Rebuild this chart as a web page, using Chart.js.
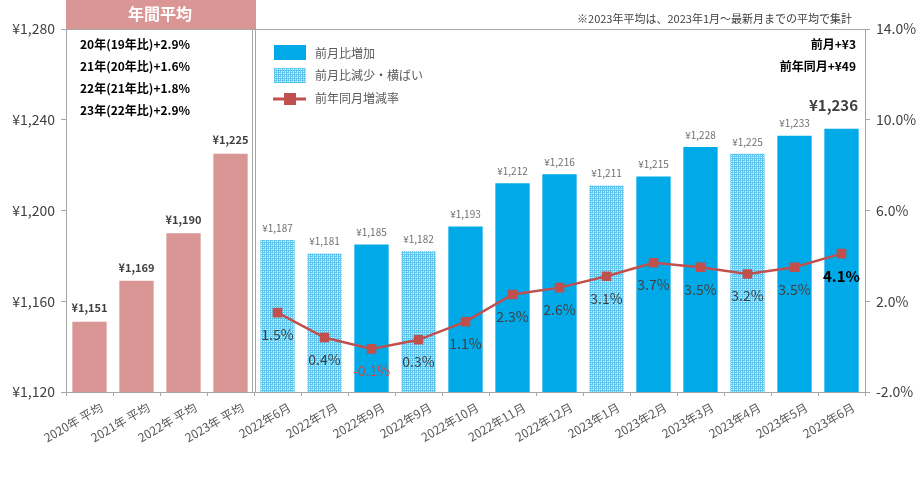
<!DOCTYPE html>
<html>
<head>
<meta charset="utf-8">
<script src="https://cdn.jsdelivr.net/npm/chart.js@4"></script>
<style>
  html, body { margin: 0; padding: 0; background: #fff; }
  #wrap { width: 922px; height: 487px; }
</style>
</head>
<body>
<div id="wrap"><canvas id="priceChart"></canvas></div>
<script>
// categories and values
const labels = ['2020年 平均', '2021年 平均', '2022年 平均', '2023年 平均',
  '2022年6月', '2022年7月', '2022年9月', '2022年9月', '2022年10月', '2022年11月', '2022年12月',
  '2023年1月', '2023年2月', '2023年3月', '2023年4月', '2023年5月', '2023年6月'];
const prices = [1151, 1169, 1190, 1225, 1187, 1181, 1185, 1182, 1193, 1212, 1216, 1211, 1215, 1228, 1225, 1233, 1236];
const yoyRate = [null, null, null, null, 1.5, 0.4, -0.1, 0.3, 1.1, 2.3, 2.6, 3.1, 3.7, 3.5, 3.2, 3.5, 4.1];
// a = annual average, u = up on previous month, d = down / flat
const barKind = ['a', 'a', 'a', 'a', 'd', 'd', 'u', 'd', 'u', 'u', 'u', 'd', 'u', 'u', 'd', 'u', 'u'];
const yenTicks = [1120, 1160, 1200, 1240, 1280];
const pctTicks = [-2, 2, 6, 10, 14];
const annualNotes = ['20年(19年比)+2.9%', '21年(20年比)+1.6%', '22年(21年比)+1.8%', '23年(22年比)+2.9%'];
const latestNotes = ['前月+¥3', '前年同月+¥49'];

const PINK = '#d99694';
const BLUE = '#00a9e8';
const RED = '#c0504d';
const FONT = '"Noto Sans CJK JP", "Noto Sans", sans-serif';

// dotted light-blue fill for "down / flat" months
function makePattern() {
  let c = document.createElement('canvas');
  c.width = 4; c.height = 4;
  let g = c.getContext('2d');
  g.fillStyle = '#5cc3ee';
  g.fillRect(0, 0, 4, 4);
  g.fillStyle = '#d8f1fc';
  g.fillRect(1, 1, 1, 1);
  g.fillRect(3, 1, 1, 1);
  g.fillRect(1, 3, 1, 1);
  g.fillRect(3, 3, 1, 1);
  g.fillStyle = '#9ad9f5';
  g.fillRect(0, 1, 1, 1);
  g.fillRect(1, 0, 1, 1);
  return g.createPattern(c, 'repeat');
}
const pattern = makePattern();
const barColors = barKind.map(k => k === 'a' ? PINK : (k === 'u' ? BLUE : pattern));

const decorations = {
  id: 'decorations',
  beforeDatasetsDraw(chart) {
    const ctx = chart.ctx, a = chart.chartArea, x = chart.scales.x;
    ctx.save();
    // plot frame
    ctx.strokeStyle = '#a6a6a6';
    ctx.lineWidth = 1;
    ctx.strokeRect(a.left + 0.5, a.top + 0.5, a.right - a.left, a.bottom - a.top);
    // double divider between annual and monthly
    let sep = (x.getPixelForValue(3) + x.getPixelForValue(4)) / 2;
    ctx.beginPath();
    ctx.moveTo(sep - 1.5, a.top); ctx.lineTo(sep - 1.5, a.bottom);
    ctx.moveTo(sep + 1.5, a.top); ctx.lineTo(sep + 1.5, a.bottom);
    ctx.stroke();
    // header box
    ctx.fillStyle = PINK;
    ctx.fillRect(a.left, 0, sep + 2 - a.left, a.top);
    ctx.fillStyle = '#fff';
    ctx.font = 'bold 16px ' + FONT;
    ctx.textAlign = 'center';
    ctx.textBaseline = 'middle';
    ctx.fillText('年間平均', (a.left + sep) / 2, 14);
    ctx.restore();
  },
  afterDatasetsDraw(chart) {
    const ctx = chart.ctx, a = chart.chartArea;
    const barMeta = chart.getDatasetMeta(1);
    const lineMeta = chart.getDatasetMeta(0);
    ctx.save();
    ctx.textAlign = 'center';
    ctx.textBaseline = 'bottom';
    // bar value labels
    barMeta.data.forEach((bar, i) => {
      let txt = '¥' + prices[i].toLocaleString('en-US');
      if (i === prices.length - 1) {
        ctx.font = 'bold 15px ' + FONT;
        ctx.fillStyle = '#404040';
        ctx.fillText(txt, bar.x - 8, bar.y - 16);
      } else if (barKind[i] === 'a') {
        ctx.font = 'bold 11px ' + FONT;
        ctx.fillStyle = '#404040';
        ctx.fillText(txt, bar.x, bar.y - 8);
      } else {
        ctx.font = '10px ' + FONT;
        ctx.fillStyle = '#707070';
        ctx.fillText(txt, bar.x, bar.y - 7);
      }
    });
    // yoy labels under the line points
    ctx.textBaseline = 'top';
    lineMeta.data.forEach((pt, i) => {
      let v = yoyRate[i];
      if (v === null) return;
      let last = i === yoyRate.length - 1;
      ctx.font = (last ? 'bold 15px ' : '14px ') + FONT;
      ctx.fillStyle = last ? '#000' : (v < 0 ? '#e0403a' : '#404040');
      ctx.fillText(v.toFixed(1) + '%', pt.x, pt.y + 15);
    });
    // annual notes
    ctx.textAlign = 'left';
    ctx.textBaseline = 'middle';
    ctx.font = 'bold 12px ' + FONT;
    ctx.fillStyle = '#000';
    annualNotes.forEach((t, i) => ctx.fillText(t, 80, 44 + i * 22));
    // latest-month notes
    ctx.textAlign = 'right';
    latestNotes.forEach((t, i) => ctx.fillText(t, 856, 44 + i * 22));
    // footnote on top
    ctx.font = '11px ' + FONT;
    ctx.fillStyle = '#404040';
    ctx.fillText('※2023年平均は、2023年1月～最新月までの平均で集計', 852, 19);
    // legend
    ctx.fillStyle = BLUE;
    ctx.fillRect(274, 45, 32, 15);
    ctx.fillStyle = pattern;
    ctx.fillRect(274, 68, 32, 15);
    ctx.strokeStyle = RED;
    ctx.lineWidth = 3;
    ctx.beginPath(); ctx.moveTo(273, 99); ctx.lineTo(306, 99); ctx.stroke();
    ctx.fillStyle = RED;
    ctx.fillRect(284, 93, 12, 12);
    ctx.textAlign = 'left';
    ctx.font = '12px ' + FONT;
    ctx.fillStyle = '#595959';
    ctx.fillText('前月比増加', 315, 53);
    ctx.fillText('前月比減少・横ばい', 315, 75);
    ctx.fillText('前年同月増減率', 315, 98);
    ctx.restore();
  }
};

new Chart(document.getElementById('priceChart'), {
  type: 'bar',
  data: {
    labels: labels,
    datasets: [{
      type: 'line',
      label: '前年同月増減率',
      data: yoyRate,
      yAxisID: 'y2',
      borderColor: RED,
      backgroundColor: RED,
      borderWidth: 2.5,
      pointStyle: 'rect',
      pointRadius: 5,
      pointHoverRadius: 5,
      tension: 0,
      order: 0
    }, {
      label: '価格',
      data: prices,
      yAxisID: 'y',
      backgroundColor: barColors,
      categoryPercentage: 1,
      barPercentage: 0.73,
      order: 1
    }]
  },
  options: {
    responsive: true,
    maintainAspectRatio: false,
    animation: false,
    layout: { padding: { top: 29, left: 0, right: 0, bottom: 0 } },
    plugins: { legend: { display: false }, tooltip: { enabled: false } },
    scales: {
      x: {
        offset: true,
        afterFit(s) { s.height = 95; },
        grid: { display: true, drawOnChartArea: false, offset: true, tickLength: 4, color: '#a6a6a6' },
        border: { color: '#a6a6a6' },
        ticks: {
          maxRotation: 30, minRotation: 30, autoSkip: false, padding: 4, labelOffset: 12,
          color: '#595959', font: { size: 12, family: FONT }
        }
      },
      y: {
        position: 'left',
        min: 1120, max: 1280,
        afterFit(s) { s.width = 66; },
        afterBuildTicks(s) { s.ticks = yenTicks.map(v => ({ value: v })); },
        grid: { drawOnChartArea: false, tickLength: 5, color: '#a6a6a6' },
        border: { color: '#a6a6a6' },
        ticks: {
          color: '#404040', padding: 6, font: { size: 14, family: FONT },
          callback: v => '¥' + v.toLocaleString('en-US')
        }
      },
      y2: {
        position: 'right',
        min: -2, max: 14,
        afterFit(s) { s.width = 57; },
        afterBuildTicks(s) { s.ticks = pctTicks.map(v => ({ value: v })); },
        grid: { drawOnChartArea: false, tickLength: 5, color: '#a6a6a6' },
        border: { color: '#a6a6a6' },
        ticks: {
          color: '#404040', padding: 6, font: { size: 14, family: FONT },
          callback: v => v.toFixed(1) + '%'
        }
      }
    }
  },
  plugins: [decorations]
});
</script>
</body>
</html>
